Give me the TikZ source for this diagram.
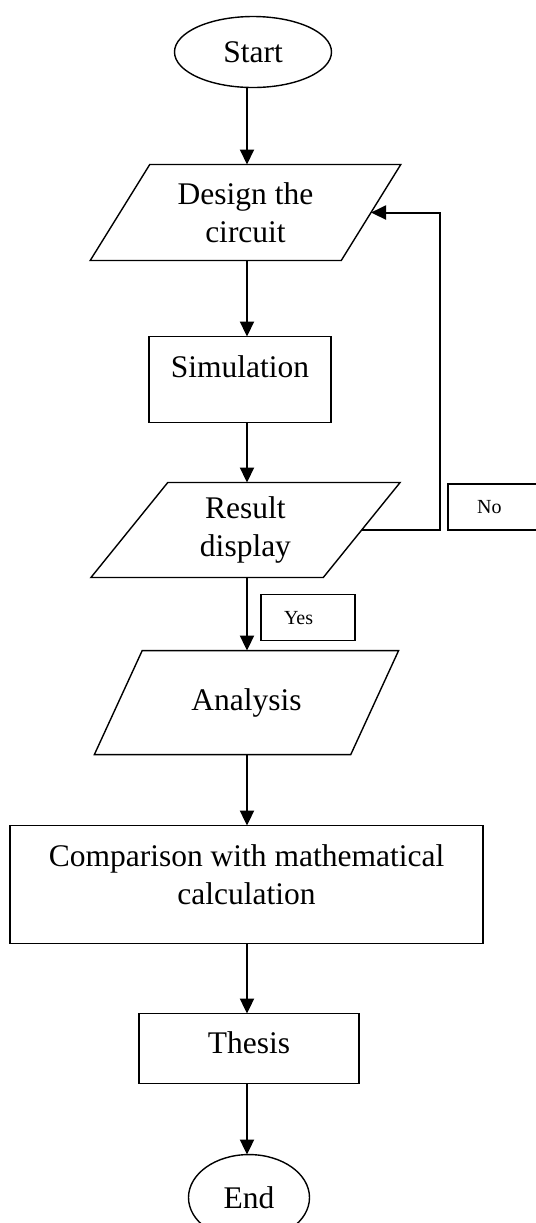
\documentclass[tikz,border=0pt]{standalone}
\usepackage{fontspec}
\setmainfont{Liberation Serif}
\usetikzlibrary{arrows.meta,positioning,shapes.geometric,calc}

\begin{document}
\begin{tikzpicture}[>={Triangle[length=7.5pt,width=7pt]},
  font=\fontsize{15.75}{18.9}\selectfont,
  box/.style={draw,line width=0.7pt,outer sep=0pt,align=center,inner sep=2pt},
  term/.style={draw,line width=0.7pt,outer sep=0pt,ellipse,inner sep=0pt},
  io/.style={draw,line width=0.7pt,outer sep=0pt,trapezium,trapezium stretches=true,
    align=center,inner sep=2pt},
  tag/.style={draw,line width=0.7pt,outer sep=0pt,align=left,minimum height=23pt,inner ysep=0pt,
    font=\fontsize{10}{12}\selectfont},
  flow/.style={->,line width=1pt}]
  \useasboundingbox (0,0) rectangle (268pt,-611.5pt);
  % the column that all down arrows follow
  \coordinate (spine) at (123.5pt,0);
  \node[term,minimum width=78.5pt,minimum height=35.5pt] (start) at (126.5pt,-26pt) {Start};
  \node[io,trapezium left angle=56.7,trapezium right angle=123.3,
    minimum width=155.5pt,minimum height=48pt,below=38.5pt of start,xshift=-3.75pt] (design)
    {Design the\\circuit};
  \node[box,minimum width=91pt,minimum height=43pt,text depth=12.8pt,
    below=38pt of design,xshift=-2.75pt] (sim) {Simulation};
  \node[io,trapezium left angle=56.7,trapezium right angle=123.3,
    minimum width=155.5pt,minimum height=47.5pt,below=30pt of sim,xshift=2.75pt] (result)
    {Result\\display};
  \node[io,trapezium left angle=53.5,trapezium right angle=126.5,
    minimum width=153.5pt,minimum height=52pt,below=36.5pt of result,xshift=0.5pt] (analysis)
    {Analysis};
  \node[box,minimum width=236.5pt,minimum height=59pt,text depth=9.7pt,
    below=35.5pt of analysis] (comp) {Comparison with mathematical\\calculation};
  \node[box,minimum width=110pt,minimum height=35pt,text depth=5.8pt,
    below=35pt of comp,xshift=1.25pt] (thesis) {Thesis};
  \node[term,minimum width=60.5pt,minimum height=43pt,below=35.5pt of thesis] (finish) {End};
  % main flow
  \draw[flow] (spine |- start.south) -- (spine |- design.north);
  \draw[flow] (spine |- design.south) -- (spine |- sim.north);
  \draw[flow] (spine |- sim.south) -- (spine |- result.north);
  \draw[flow] (spine |- result.south) -- (spine |- analysis.north);
  \draw[flow] (spine |- analysis.south) -- (spine |- comp.north);
  \draw[flow] (spine |- comp.south) -- (spine |- thesis.north);
  \draw[flow] (spine |- thesis.south) -- (spine |- finish.north);
  % loop back when the result is not good
  \coordinate (turn) at ($(result.east)+(39.25pt,0)$);
  \draw[flow] (result.east) -- (turn) |- (design.east);
  \node[tag,above right=0pt and 4pt of turn,inner xsep=14.5pt,text width=33pt] (no) {No};
  \coordinate (fork) at (spine |- result.south);
  \node[tag,below right=8.5pt and 7pt of fork,inner xsep=11.5pt,text width=24pt] (yes) {Yes};
\end{tikzpicture}
\end{document}
